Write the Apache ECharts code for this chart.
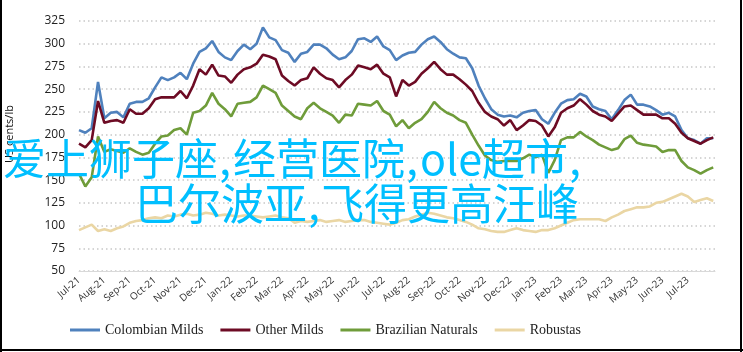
<!DOCTYPE html>
<html><head><meta charset="utf-8">
<script src="https://cdn.jsdelivr.net/npm/echarts@6/dist/echarts.min.js"></script>
<style>html,body{margin:0;padding:0;background:#fff}#c{width:743px;height:352px}</style>
</head><body><div id="c"></div>
<script>
// Tick labels (one per month, first tick = Jul-21)
const monthLabels = ['Jul-21','Aug-21','Sep-21','Oct-21','Nov-21','Dec-21','Jan-22','Feb-22','Mar-22','Apr-22','May-22','Jun-22',
  'Jul-22','Aug-22','Sep-22','Oct-22','Nov-22','Dec-22','Jan-23','Feb-23','Mar-23','Apr-23','May-23','Jun-23','Jul-23'];
// Sampling step of the series, in months (about weekly)
const stepMonths = 0.25;
const seriesNames = ['Colombian Milds','Other Milds','Brazilian Naturals','Robustas'];
// US cents/lb, weekly readings from Jul-2021
const colombianMilds = [205,202,207,258,218,224,225,219,234,236,236,240,252,263,260,263,268,261,278,291,
  295,303,291,285,282,292,299,294,300,318,307,304,293,290,280,289,291,299,299,295,
  288,283,285,292,305,306,302,308,297,293,282,287,290,291,299,305,308,302,294,289,
  285,284,273,254,240,228,222,220,221,219,224,226,227,217,212,224,234,238,239,245,
  242,231,228,226,217,227,238,244,233,233,231,227,222,224,220,205,196,194,190,196,196];
const otherMilds = [190,186,194,237,213,215,216,213,228,223,223,229,239,241,241,241,248,240,254,272,
  266,277,265,264,257,266,272,274,278,288,286,283,265,259,254,260,262,274,267,262,
  260,252,260,266,276,274,272,277,267,263,242,260,254,258,267,273,280,272,266,266,
  261,255,248,235,225,220,217,210,216,205,210,216,215,210,198,208,224,229,232,239,
  233,226,222,220,215,223,231,232,227,222,222,222,218,218,212,202,196,193,190,194,197];
const brazilianNaturals = [157,143,153,198,181,184,182,180,185,181,178,180,190,198,199,205,207,200,224,226,
  232,246,234,228,220,234,235,236,241,254,250,246,232,226,220,217,229,235,229,225,
  221,213,222,221,234,233,232,237,226,222,209,216,207,213,217,225,236,229,224,221,
  216,213,200,188,177,172,170,171,171,171,174,178,175,178,158,172,194,197,197,203,
  198,194,189,186,183,185,195,199,191,189,188,187,181,183,183,171,164,161,157,161,164];
const robustas = [95,98,101,94,96,94,97,99,103,105,106,108,109,108,111,110,112,113,111,112,
  114,113,111,112,111,110,111,111,110,109,110,111,109,108,103,105,104,105,106,104,
  105,106,104,105,106,106,104,103,102,101,103,106,107,110,112,114,113,111,109,108,
  106,104,101,97,96,94,93,93,95,97,95,94,93,95,95,97,100,103,106,107,
  107,107,107,105,109,112,116,118,120,120,121,125,126,129,132,135,132,126,128,130,127];
const seriesColors = ['#4F81BD','#6D0B24','#6F9C3A','#EAD6A4'];
const overlayLines = ['爱上狮子座,经营医院,ole超市,','巴尔波亚,飞得更高汪峰'];
const axisTitle = 'US cents/lb';

const allValues = [colombianMilds, otherMilds, brazilianNaturals, robustas];
const overlayStyle = (t, pad) => ({
  text: t.replace(/,/g, '{c|,}'), align: 'right', verticalAlign: 'middle',
  fill: '#00BFFF', font: '43px "Noto Sans CJK SC"',
  rich: { c: { fill: '#00BFFF', font: '43px "Noto Sans CJK SC"', padding: pad } }
});
const chart = echarts.init(document.getElementById('c'));
chart.setOption({
  animation: false,
  backgroundColor: '#fff',
  grid: { left: 79, right: 28, top: 21, bottom: 81 },
  xAxis: {
    type: 'value', min: 0, max: 25.07, interval: 1,
    axisLine: { show: true, onZero: false, lineStyle: { color: '#d9d9d9', width: 1 } },
    axisTick: { show: false },
    splitLine: { show: false },
    axisLabel: {
      rotate: 40, fontSize: 10, color: '#333', fontFamily: 'Open Sans', margin: 8,
      showMaxLabel: false,
      formatter: v => (Math.abs(v - Math.round(v)) < 1e-6 && monthLabels[Math.round(v)]) ? monthLabels[Math.round(v)] : ''
    }
  },
  yAxis: {
    type: 'value', min: 50, max: 325, interval: 25,
    axisLine: { show: false }, axisTick: { show: false },
    axisLabel: { fontSize: 12, color: '#222', fontFamily: 'Open Sans', margin: 14 },
    splitLine: { show: true, lineStyle: { color: '#c8c8c8', width: 1.5, type: [1.5, 3] } }
  },
  legend: {
    left: 65, top: 318, itemWidth: 30, itemHeight: 3, itemGap: 17,
    textStyle: { fontFamily: 'Liberation Sans Narrow', fontSize: 14, color: '#222' },
    data: seriesNames.map((n, k) => ({ name: n, icon: 'rect', itemStyle: { color: seriesColors[k], borderWidth: 0 } }))
  },
  series: seriesNames.map((name, k) => ({
    name, type: 'line', showSymbol: false, symbol: 'none',
    color: seriesColors[k],
    lineStyle: { width: 2.6, color: seriesColors[k] },
    data: allValues[k].map((v, i) => [i * stepMonths, v])
  })),
  graphic: [
    { type: 'text', z: 100, x: 10, y: 134, rotation: Math.PI / 2,
      style: { text: axisTitle, align: 'center', verticalAlign: 'middle', fill: '#111', font: '11px "Open Sans"' } },
    { type: 'text', z: 100, x: 583, y: 159, style: overlayStyle(overlayLines[0], [0, 2, 0, 1]) },
    { type: 'text', z: 100, x: 579, y: 204, style: overlayStyle(overlayLines[1], [0, 1, 0, 1]) },
    { type: 'line', z: 100, shape: { x1: 1, y1: 0, x2: 1, y2: 352 }, style: { stroke: '#000', lineWidth: 2 } },
    { type: 'line', z: 100, shape: { x1: 741, y1: 0, x2: 741, y2: 352 }, style: { stroke: '#000', lineWidth: 2 } },
    { type: 'line', z: 100, shape: { x1: 0, y1: 350, x2: 743, y2: 350 }, style: { stroke: '#000', lineWidth: 2 } }
  ]
});
</script></body></html>
